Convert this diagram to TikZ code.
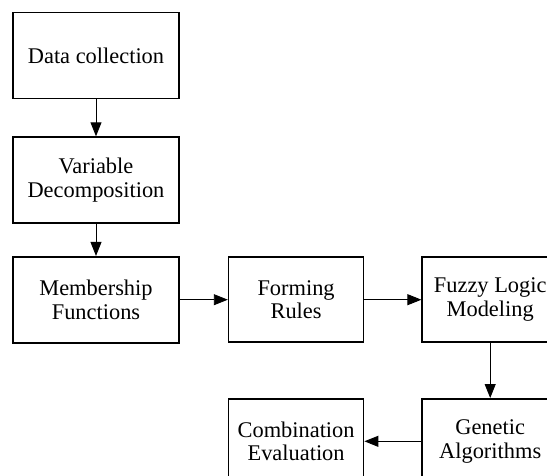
\documentclass[tikz,border=0pt]{standalone}
\usepackage{fontspec}
\setmainfont{Liberation Serif}
\usetikzlibrary{positioning}
\usetikzlibrary{arrows.meta}
\tikzset{
	-{Triangle[length=14pt,width=11pt]},
	every path/.style={line width=0.9pt},
	stage/.style={rectangle, draw, line width=1.6pt, align=center, minimum width=136pt, minimum height=85pt, inner sep=2pt, font=\fontsize{22.4}{23.5}\selectfont},
	wide/.style={minimum width=166pt, minimum height=86pt}
}

\begin{document}
\begin{tikzpicture}[node distance = 35pt and 50pt]
	% Frame
	\path[use as bounding box] (0,0) rectangle (547pt,-475pt);

	\node (data) [stage, wide] at (96pt,-55.5pt) {Data collection};
	\node (var) [stage, wide, below = 37pt of data] {Variable\\Decomposition};
	\node (memb) [stage, wide, below = 32pt of var] {Membership\\Functions};
	\node (rules) [stage, minimum width=135pt, right = 48pt of memb] {Forming\\Rules};
	\node (fuzzy) [stage, right = 57pt of rules] {Fuzzy Logic\\Modeling};
	\node (gen) [stage, below = 55pt of fuzzy] {Genetic\\Algorithms};
	\node (comb) [stage, minimum width=135pt, left = 57pt of gen] {Combination\\Evaluation};

	\path (data) edge (var);
	\path (var) edge (memb);
	\path (memb) edge (rules);
	\path (rules) edge (fuzzy);
	\path (fuzzy) edge (gen);
	\path (gen) edge (comb);

\end{tikzpicture}
\end{document}
